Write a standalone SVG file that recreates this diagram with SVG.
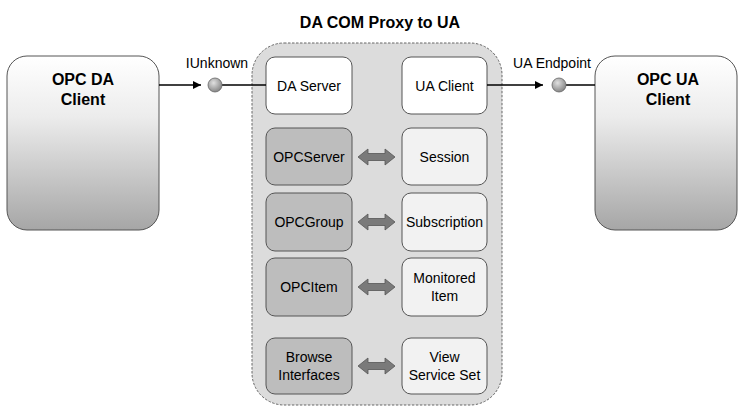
<svg xmlns="http://www.w3.org/2000/svg" width="738" height="407" viewBox="0 0 738 407">
<defs>
<linearGradient id="cg" x1="0" y1="0" x2="0" y2="1">
<stop offset="0" stop-color="#ffffff"/>
<stop offset="0.35" stop-color="#ececec"/>
<stop offset="1" stop-color="#a6a6a6"/>
</linearGradient>
<radialGradient id="ball" cx="0.4" cy="0.35" r="0.7">
<stop offset="0" stop-color="#e0e0e0"/>
<stop offset="1" stop-color="#808080"/>
</radialGradient>
<marker id="ah" viewBox="0 0 10 10" refX="10" refY="5" markerWidth="8" markerHeight="8" markerUnits="userSpaceOnUse" orient="auto">
<path d="M0,0 L10,5 L0,10 z" fill="#000"/>
</marker>
<path id="dbl" d="M0,0 L10,-8 L10,-3.5 L27,-3.5 L27,-8 L37,0 L27,8 L27,3.5 L10,3.5 L10,8 z"/>
</defs>
<style>
.t{font-family:"Liberation Sans",Arial,sans-serif;fill:#000;text-anchor:middle}
.b{font-weight:bold;font-size:16px}
.n{font-size:14px}
.client{fill:url(#cg);stroke:#555;stroke-width:1}
.white{fill:#fff;stroke:#555;stroke-width:1}
.dark{fill:#bdbdbd;stroke:#555;stroke-width:1}
.light{fill:#f2f2f2;stroke:#555;stroke-width:1}
.arr{fill:#7a7a7a;stroke:#555;stroke-width:0.8}
.line{stroke:#000;stroke-width:1.5;fill:none}
</style>
<rect width="738" height="407" fill="#fff"/>
<text class="t b" x="380" y="28" font-size="16.5">DA COM Proxy to UA</text>
<g id="proxy">
<rect x="252" y="43" width="250" height="362" rx="32" fill="#dcdcdc" stroke="#666" stroke-width="1" stroke-dasharray="2.5,1.5"/>
</g>
<g id="opc-da-client">
<rect class="client" x="7" y="56" width="152" height="174" rx="20"/>
<text class="t b" x="83" y="85">OPC DA</text>
<text class="t b" x="83" y="105">Client</text>
</g>
<g id="opc-ua-client">
<rect class="client" x="595" y="56" width="142" height="174" rx="20"/>
<text class="t b" x="668" y="85">OPC UA</text>
<text class="t b" x="668" y="105">Client</text>
</g>
<g id="da-server"><rect class="white" x="266" y="57" width="86" height="57" rx="9"/><text class="t n" x="309" y="91">DA Server</text></g>
<g id="ua-client"><rect class="white" x="402" y="57" width="85" height="57" rx="9"/><text class="t n" x="444.5" y="91">UA Client</text></g>
<g id="opcserver"><rect class="dark" x="266" y="128" width="86" height="57" rx="9"/><text class="t n" x="309" y="162">OPCServer</text></g>
<g id="session"><rect class="light" x="402" y="128" width="85" height="57" rx="9"/><text class="t n" x="444.5" y="162">Session</text></g>
<g id="opcgroup"><rect class="dark" x="266" y="193" width="86" height="58" rx="9"/><text class="t n" x="309" y="227">OPCGroup</text></g>
<g id="subscription"><rect class="light" x="402" y="193" width="85" height="58" rx="9"/><text class="t n" x="444.5" y="227">Subscription</text></g>
<g id="opcitem"><rect class="dark" x="266" y="258" width="86" height="58" rx="9"/><text class="t n" x="309" y="292">OPCItem</text></g>
<g id="monitored-item"><rect class="light" x="402" y="258" width="85" height="58" rx="9"/><text class="t n" x="444.5" y="283">Monitored</text><text class="t n" x="444.5" y="301">Item</text></g>
<g id="browse"><rect class="dark" x="266" y="338" width="86" height="56" rx="9"/><text class="t n" x="309" y="362">Browse</text><text class="t n" x="309" y="380">Interfaces</text></g>
<g id="view"><rect class="light" x="402" y="338" width="85" height="56" rx="9"/><text class="t n" x="444.5" y="362">View</text><text class="t n" x="444.5" y="380">Service Set</text></g>
<g id="connectors">
<line class="line" x1="159" y1="85" x2="201" y2="85" marker-end="url(#ah)"/>
<line class="line" x1="222" y1="85" x2="266" y2="85"/>
<circle cx="215" cy="85" r="7" fill="url(#ball)" stroke="#666" stroke-width="0.8"/>
<line class="line" x1="487" y1="85" x2="543" y2="85" marker-end="url(#ah)"/>
<line class="line" x1="566" y1="85" x2="595" y2="85"/>
<circle cx="559" cy="85" r="7" fill="url(#ball)" stroke="#666" stroke-width="0.8"/>
<use href="#dbl" class="arr" x="358" y="157"/>
<use href="#dbl" class="arr" x="358" y="222"/>
<use href="#dbl" class="arr" x="358" y="287"/>
<use href="#dbl" class="arr" x="358" y="366"/>
</g>
<text class="t n" x="217" y="68">IUnknown</text>
<text class="t n" x="552" y="68">UA Endpoint</text>
</svg>
